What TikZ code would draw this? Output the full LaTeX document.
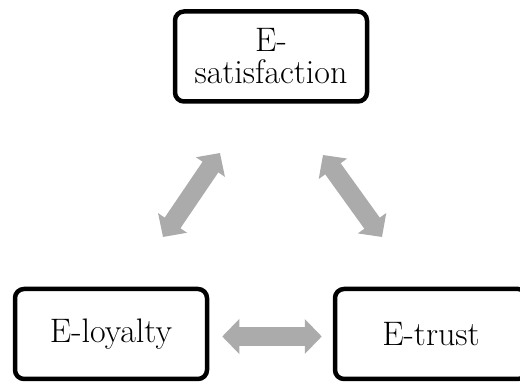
\documentclass[tikz,border=0pt]{standalone}
\usepackage{fontspec}
\usepackage{tikz}
\usetikzlibrary{arrows.meta,positioning}
\definecolor{arrowgray}{HTML}{ABABAB}

\begin{document}
\begin{tikzpicture}[x=1pt,y=1pt,font=\fontsize{34}{32}\selectfont,
  box/.style={draw,line width=4.5pt,rounded corners=9pt,minimum width=192pt,
    minimum height=90pt,align=center,inner sep=0pt},
  link/.style={draw=arrowgray,line width=19pt,
    {Triangle[length=17pt,width=34pt]}-{Triangle[length=17pt,width=34pt]}}]
\useasboundingbox (0,0) rectangle (520,385);
\node[box] (sat) at (271,328.5) {E-\\satisfaction};
\node[box] (loyalty) at (111,51) {E-loyalty};
\node[box] (trust) at (431,51) {E-trust};
% free ends of the slanted links
\coordinate (ls) at (163,148);
\coordinate (le) at (220,232);
\coordinate (rs) at (382,148);
\coordinate (re) at (323,230);
\draw[link] (ls) -- (le);
\draw[link] (rs) -- (re);
\draw[link,shorten <=13pt,shorten >=11pt] ([yshift=-2.5pt]loyalty.east) -- ([yshift=-2.5pt]trust.west);
\end{tikzpicture}
\end{document}
